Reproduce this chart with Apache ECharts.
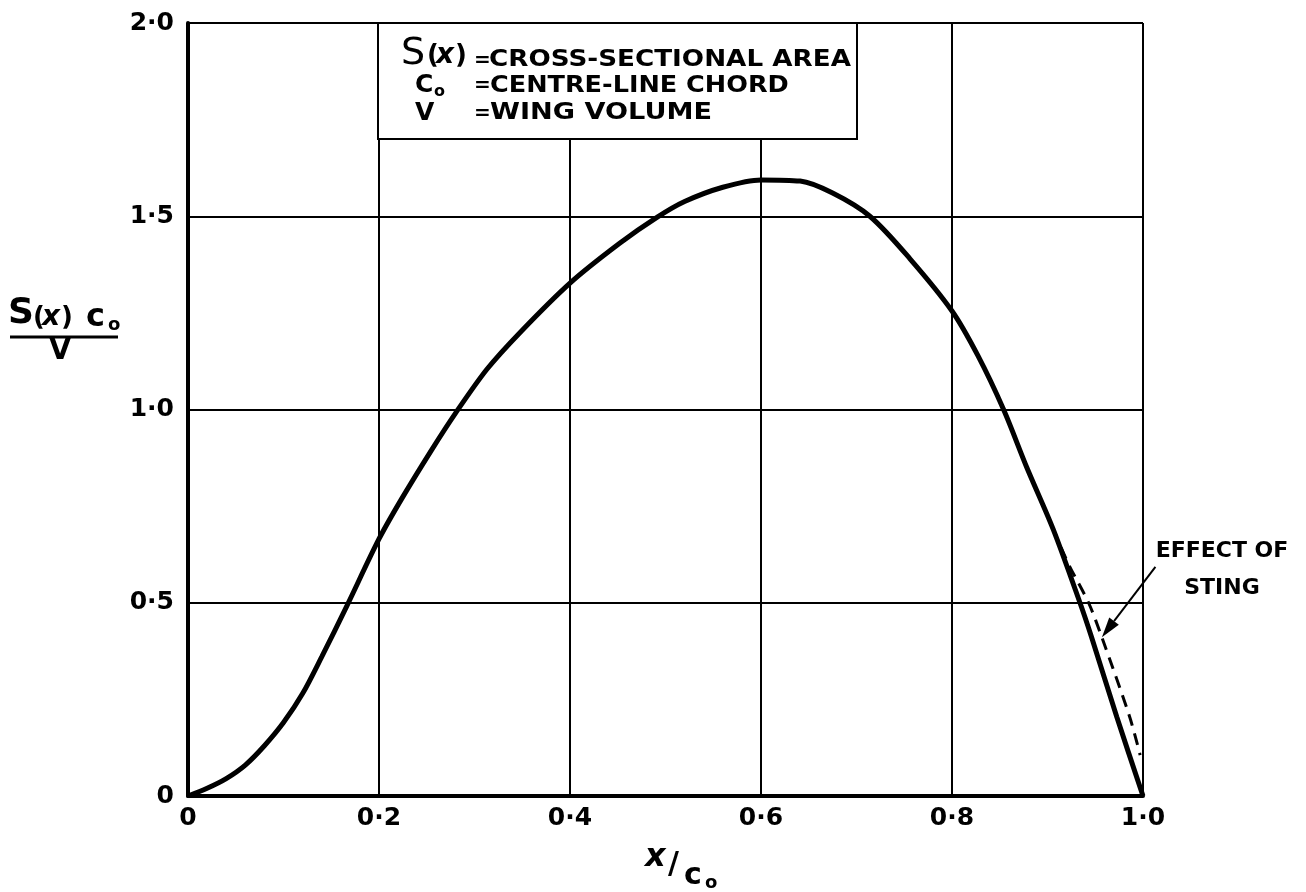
<!DOCTYPE html>
<html>
<head>
<meta charset="utf-8">
<script src="https://cdn.jsdelivr.net/npm/echarts@6/dist/echarts.min.js"></script>
<style>
  html, body { margin: 0; padding: 0; background: #fff; }
  #chart { width: 1306px; height: 892px; }
</style>
</head>
<body>
<div id="chart"></div>
<script>
// ---- data ----
var xTickLabels = ["0", "0·2", "0·4", "0·6", "0·8", "1·0"];
var yTickLabels = ["0", "0·5", "1·0", "1·5", "2·0"];

// S(x)c0/V against x/c0 (solid curve)
var areaX = [0, 0.02, 0.04, 0.06, 0.08, 0.1, 0.12, 0.14, 0.166, 0.2, 0.224, 0.255, 0.28, 0.313, 0.348, 0.4, 0.452, 0.491, 0.52, 0.56, 0.6, 0.641, 0.675, 0.714, 0.756, 0.8, 0.827, 0.854, 0.878, 0.906, 0.934, 0.946, 0.9725, 1.0];
var areaY = [0, 0.02, 0.045, 0.08, 0.13, 0.19, 0.265, 0.36, 0.49, 0.665, 0.77, 0.895, 0.99, 1.104, 1.2, 1.327, 1.43, 1.497, 1.538, 1.575, 1.594, 1.591, 1.56, 1.5, 1.39, 1.255, 1.14, 1.0, 0.852, 0.69, 0.5, 0.412, 0.205, 0.0];

// effect of sting (dashed curve)
var stingX = [0.906, 0.922, 0.943, 0.957, 0.986, 0.997];
var stingY = [0.69, 0.6, 0.5, 0.41, 0.205, 0.106];

// arrow annotation (tail, tip) in data units
var arrowFrom = [1.013, 0.593];
var arrowTo = [0.957, 0.411];

function pairs(xs, ys) { return xs.map(function (x, i) { return [x, ys[i]]; }); }

var FONT = '"DejaVu Sans", sans-serif';
var chart = echarts.init(document.getElementById('chart'), null, { renderer: 'canvas' });

var G = [];
function txt(x, y, text, size, opts) {
  opts = opts || {};
  G.push({
    type: 'text', x: x, y: y, z: 101,
    scaleX: opts.scaleX || 1,
    style: {
      text: text, fill: '#000',
      font: (opts.italic ? 'italic ' : '') + (opts.normal ? '' : 'bold ') + size + 'px ' + FONT,
      align: opts.align || 'left', verticalAlign: 'middle'
    }
  });
}

// legend/definition box
G.push({ type: 'rect', z: 100, shape: { x: 378, y: 23, width: 479, height: 116 },
  style: { fill: '#fff', stroke: '#000', lineWidth: 2 } });
txt(401, 54, 'S', 38, { normal: true });
txt(427, 56, '(', 26);
txt(436, 56, 'x', 28, { italic: true });
txt(455, 56, ')', 26);
txt(474, 61, '=', 20);
txt(489, 60, 'CROSS-SECTIONAL AREA', 23, { scaleX: 1.14 });
txt(415, 85, 'C', 25);
txt(434, 92, 'o', 16);
txt(474, 86, '=', 20);
txt(490, 86, 'CENTRE-LINE CHORD', 23, { scaleX: 1.11 });
txt(415, 113, 'V', 25);
txt(474, 114, '=', 20);
txt(490, 113, 'WING VOLUME', 23, { scaleX: 1.18 });

// y-axis name (fraction)
txt(8, 314, 'S', 36);
txt(33, 318, '(', 26);
txt(42, 318, 'x', 28, { italic: true });
txt(61, 318, ')', 26);
txt(86, 318, 'c', 32);
txt(108, 325, 'o', 18);
G.push({ type: 'line', z: 100, shape: { x1: 10, y1: 337, x2: 118, y2: 337 },
  style: { stroke: '#000', lineWidth: 3 } });
txt(60, 352, 'V', 28, { align: 'center' });

// x-axis name
txt(645, 858, 'x', 32, { italic: true });
txt(668, 865, '/', 30);
txt(684, 876, 'c', 30);
txt(705, 883, 'o', 18);

// annotation text
txt(1222, 551, 'EFFECT OF', 22, { align: 'center' });
txt(1222, 588, 'STING', 22, { align: 'center' });

var option = {
  backgroundColor: '#fff',
  animation: false,
  grid: { left: 188, right: 163, top: 23, bottom: 96, show: false },
  xAxis: {
    type: 'value', min: 0, max: 1, interval: 0.2,
    axisLine: { show: true, onZero: false, lineStyle: { color: '#000', width: 4 } },
    axisTick: { show: false },
    splitLine: { show: true, lineStyle: { color: '#000', width: 2 } },
    axisLabel: {
      margin: 10, color: '#000', fontSize: 25, fontWeight: 'bold', fontFamily: FONT,
      formatter: function (v) { return xTickLabels[Math.round(v / 0.2)]; }
    }
  },
  yAxis: {
    type: 'value', min: 0, max: 2, interval: 0.5,
    axisLine: { show: true, onZero: false, lineStyle: { color: '#000', width: 4 } },
    axisTick: { show: false },
    splitLine: { show: true, lineStyle: { color: '#000', width: 2 } },
    axisLabel: {
      margin: 14, color: '#000', fontSize: 25, fontWeight: 'bold', fontFamily: FONT,
      formatter: function (v) { return yTickLabels[Math.round(v / 0.5)]; }
    }
  },
  series: [
    {
      type: 'line', name: 'S(x)c0/V', data: pairs(areaX, areaY),
      smooth: 0.3, showSymbol: false, symbol: 'none',
      lineStyle: { color: '#000', width: 5 }, z: 5
    },
    {
      type: 'line', name: 'Effect of sting', data: pairs(stingX, stingY),
      smooth: 0.3, showSymbol: false, symbol: 'none', clip: false,
      lineStyle: { color: '#000', width: 3, type: [12, 8] }, z: 4
    }
  ]
};
chart.setOption(option);

// arrow from "EFFECT OF STING" to the dashed curve, positioned via the chart's scales
var p0 = chart.convertToPixel({ gridIndex: 0 }, arrowFrom);
var p1 = chart.convertToPixel({ gridIndex: 0 }, arrowTo);
var dx = p1[0] - p0[0], dy = p1[1] - p0[1];
var len = Math.sqrt(dx * dx + dy * dy);
var ux = dx / len, uy = dy / len;
var headL = 20, headW = 6;
var bx = p1[0] - ux * headL, by = p1[1] - uy * headL;
G.push({ type: 'line', z: 100, shape: { x1: p0[0], y1: p0[1], x2: bx, y2: by },
  style: { stroke: '#000', lineWidth: 2 } });
G.push({ type: 'polygon', z: 100,
  shape: { points: [[p1[0], p1[1]], [bx - uy * headW, by + ux * headW], [bx + uy * headW, by - ux * headW]] },
  style: { fill: '#000' } });

chart.setOption({ graphic: G });
</script>
</body>
</html>
